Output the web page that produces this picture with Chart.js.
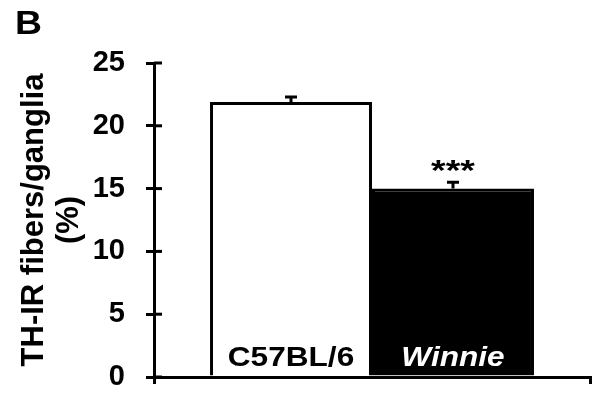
<!DOCTYPE html>
<html>
<head>
<meta charset="utf-8">
<script src="https://cdn.jsdelivr.net/npm/chart.js@4"></script>
<style>
  html, body { margin: 0; padding: 0; background: #fff; }
  #wrap { width: 605px; height: 403px; }
</style>
</head>
<body>
<div id="wrap"><canvas id="fig"></canvas></div>
<script>
// groupes et moyennes (+ SEM)
const groups = ['C57BL/6', 'Winnie'];
const means = [21.9, 15.0];
const sems = [0.4, 0.5];
const stars = ['', '***'];
const yMin = 0, yMax = 25, yStep = 5;

const FONT = '"Liberation Sans", Arial, sans-serif';

// petit utilitaire : texte un peu étiré en largeur
function wideText(ctx, txt, x, y, sx) {
  ctx.save();
  ctx.translate(x, y);
  ctx.scale(sx, 1);
  ctx.fillText(txt, 0, 0);
  ctx.restore();
}

// traits de graduation qui traversent l'axe Y
const crossTicks = {
  id: 'crossTicks',
  afterDraw(chart) {
    const ctx = chart.ctx, y = chart.scales.y;
    ctx.save();
    ctx.strokeStyle = '#000';
    ctx.lineWidth = 3;
    y.ticks.forEach(t => {
      const py = y.getPixelForValue(t.value);
      ctx.beginPath();
      ctx.moveTo(y.right, py);
      ctx.lineTo(y.right + 8, py);
      ctx.stroke();
    });
    ctx.restore();
  }
};

// barres d'erreur, étoiles, noms dans les barres et lettre du panneau
const annotations = {
  id: 'annotations',
  afterDatasetsDraw(chart) {
    const ctx = chart.ctx, y = chart.scales.y;
    ctx.save();
    chart.data.datasets.forEach((ds, i) => {
      const bar = chart.getDatasetMeta(i).data[0];
      const top = y.getPixelForValue(means[i] + sems[i]);

      ctx.strokeStyle = '#000';
      ctx.lineWidth = 3;
      ctx.beginPath();
      ctx.moveTo(bar.x, bar.y);
      ctx.lineTo(bar.x, top);
      ctx.moveTo(bar.x - 6, top);
      ctx.lineTo(bar.x + 6, top);
      ctx.stroke();

      if (stars[i]) {
        ctx.font = 'bold 30px ' + FONT;
        ctx.fillStyle = '#000';
        ctx.textAlign = 'center';
        ctx.textBaseline = 'alphabetic';
        const m = ctx.measureText(stars[i]);
        wideText(ctx, stars[i], bar.x, top - 10 - m.actualBoundingBoxDescent, 1.25);
      }

      // nom du groupe en bas de la barre
      ctx.font = (i === 1 ? 'italic ' : '') + 'bold 27px ' + FONT;
      ctx.fillStyle = i === 1 ? '#fff' : '#000';
      ctx.textAlign = 'center';
      ctx.textBaseline = 'alphabetic';
      wideText(ctx, groups[i], bar.x, bar.base - 10, 1.17);
    });

    ctx.font = 'bold 34px ' + FONT;
    ctx.fillStyle = '#000';
    ctx.textAlign = 'left';
    ctx.textBaseline = 'alphabetic';
    wideText(ctx, 'B', 15, 34, 1.1);
    ctx.restore();
  }
};

new Chart(document.getElementById('fig'), {
  type: 'bar',
  data: {
    labels: [''],
    datasets: groups.map((g, i) => ({
      label: g,
      data: [means[i]],
      backgroundColor: i === 0 ? '#ffffff' : '#000000',
      borderColor: '#000000',
      borderWidth: 3,
      categoryPercentage: 0.743,
      barPercentage: 1.0
    }))
  },
  options: {
    responsive: true,
    maintainAspectRatio: false,
    animation: false,
    layout: { padding: { left: 13, right: 15, top: 63, bottom: 0 } },
    plugins: {
      legend: { display: false },
      tooltip: { enabled: false }
    },
    scales: {
      x: {
        ticks: { display: false },
        border: { color: '#000', width: 3 },
        grid: { offset: true, drawOnChartArea: false, tickLength: 7, lineWidth: 3, color: '#000' },
        afterFit(scale) { scale.height = 26; }
      },
      y: {
        min: yMin,
        max: yMax,
        ticks: {
          stepSize: yStep,
          padding: 21,
          color: '#000',
          font: { family: FONT, size: 29, weight: 'bold' }
        },
        border: { color: '#000', width: 3 },
        grid: { drawOnChartArea: false, tickLength: 8, lineWidth: 3, color: '#000' },
        title: {
          display: true,
          text: ['TH-IR fibers/ganglia', '(%)'],
          color: '#000',
          padding: { top: 4, bottom: 0 },
          font: { family: FONT, size: 31, weight: 'bold', lineHeight: '35px' }
        },
        afterFit(scale) {
          scale.width = 141;
          // le padding des étiquettes ne doit pas rogner la zone du graphique
          scale.paddingTop = 17;
          scale.paddingBottom = 17;
        }
      }
    }
  },
  plugins: [crossTicks, annotations]
});
</script>
</body>
</html>
